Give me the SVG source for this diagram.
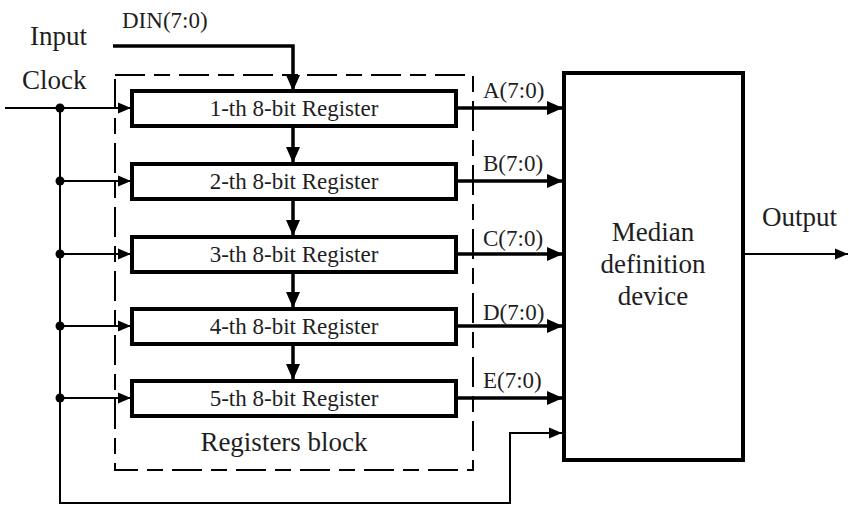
<svg xmlns="http://www.w3.org/2000/svg" width="849" height="508" viewBox="0 0 849 508">
<style>
  text { font-family: "Liberation Serif", "Times New Roman", serif; fill: #1e1e1e; }
  .big { font-size: 27px; }
  .reg { font-size: 23px; text-anchor: middle; }
  .lbl { font-size: 23px; }
  .box { fill: #fff; stroke: #000; stroke-width: 4; }
  .thick { fill: none; stroke: #000; stroke-width: 3.5; }
  .thin { fill: none; stroke: #000; stroke-width: 2; }
  .dash { fill: none; stroke: #000; stroke-width: 2; stroke-dasharray: 30 9 16 9; }
</style>
<defs>
  <marker id="ah" markerUnits="userSpaceOnUse" markerWidth="18" markerHeight="16" refX="16" refY="8" orient="auto">
    <path d="M0,1 L16,8 L0,15 Z" fill="#000"/>
  </marker>
  <marker id="as" markerUnits="userSpaceOnUse" markerWidth="14" markerHeight="12" refX="13" refY="6" orient="auto">
    <path d="M0,0.5 L13,6 L0,11.5 Z" fill="#000"/>
  </marker>
</defs>
<rect width="849" height="508" fill="#fff"/>

<g id="registers-block">
  <rect class="dash" x="115" y="75" width="358" height="395"/>
  <text class="big" x="284" y="451" text-anchor="middle">Registers block</text>
</g>

<g id="connectors">
  <!-- input -->
  <path class="thick" d="M113,46 H293 V91" marker-end="url(#ah)"/>
  <!-- register chain -->
  <path class="thick" d="M293,127 V163" marker-end="url(#ah)"/>
  <path class="thick" d="M293,200 V236" marker-end="url(#ah)"/>
  <path class="thick" d="M293,273 V308" marker-end="url(#ah)"/>
  <path class="thick" d="M293,345 V380" marker-end="url(#ah)"/>
  <!-- outputs -->
  <path class="thick" d="M456,108 H563" marker-end="url(#ah)"/>
  <path class="thick" d="M456,181 H563" marker-end="url(#ah)"/>
  <path class="thick" d="M456,254 H563" marker-end="url(#ah)"/>
  <path class="thick" d="M456,326 H563" marker-end="url(#ah)"/>
  <path class="thick" d="M456,398 H563" marker-end="url(#ah)"/>
  <!-- clock -->
  <path class="thin" d="M5,108 H131" marker-end="url(#as)"/>
  <path class="thin" d="M60,108 V503 H510 V433 H562" marker-end="url(#as)"/>
  <path class="thin" d="M60,181 H131" marker-end="url(#as)"/>
  <path class="thin" d="M60,254 H131" marker-end="url(#as)"/>
  <path class="thin" d="M60,326 H131" marker-end="url(#as)"/>
  <path class="thin" d="M60,398 H131" marker-end="url(#as)"/>
  <circle cx="60" cy="108" r="4.5" fill="#000"/>
  <circle cx="60" cy="181" r="4.5" fill="#000"/>
  <circle cx="60" cy="254" r="4.5" fill="#000"/>
  <circle cx="60" cy="326" r="4.5" fill="#000"/>
  <circle cx="60" cy="398" r="4.5" fill="#000"/>
  <!-- output -->
  <path class="thin" d="M744,254 H848" marker-end="url(#as)"/>
</g>

<g id="labels">
  <text class="big" x="30" y="45">Input</text>
  <text class="big" x="22" y="89">Clock</text>
  <text class="lbl" x="122" y="28">DIN(7:0)</text>
  <text class="lbl" x="483" y="98">A(7:0)</text>
  <text class="lbl" x="483" y="171">B(7:0)</text>
  <text class="lbl" x="483" y="246">C(7:0)</text>
  <text class="lbl" x="483" y="320">D(7:0)</text>
  <text class="lbl" x="483" y="388">E(7:0)</text>
  <text class="big" x="762" y="226">Output</text>
</g>

<g id="reg1"><rect class="box" x="132" y="91" width="324" height="35"/><text class="reg" x="294" y="116">1-th 8-bit Register</text></g>
<g id="reg2"><rect class="box" x="132" y="164" width="324" height="35"/><text class="reg" x="294" y="189">2-th 8-bit Register</text></g>
<g id="reg3"><rect class="box" x="132" y="237" width="324" height="35"/><text class="reg" x="294" y="262">3-th 8-bit Register</text></g>
<g id="reg4"><rect class="box" x="132" y="309" width="324" height="35"/><text class="reg" x="294" y="334">4-th 8-bit Register</text></g>
<g id="reg5"><rect class="box" x="132" y="381" width="324" height="35"/><text class="reg" x="294" y="406">5-th 8-bit Register</text></g>

<g id="median">
  <rect class="box" x="564" y="73" width="179" height="387"/>
  <text class="big" x="653" y="241" text-anchor="middle">Median</text>
  <text class="big" x="653" y="273" text-anchor="middle">definition</text>
  <text class="big" x="653" y="305" text-anchor="middle">device</text>
</g>
</svg>
